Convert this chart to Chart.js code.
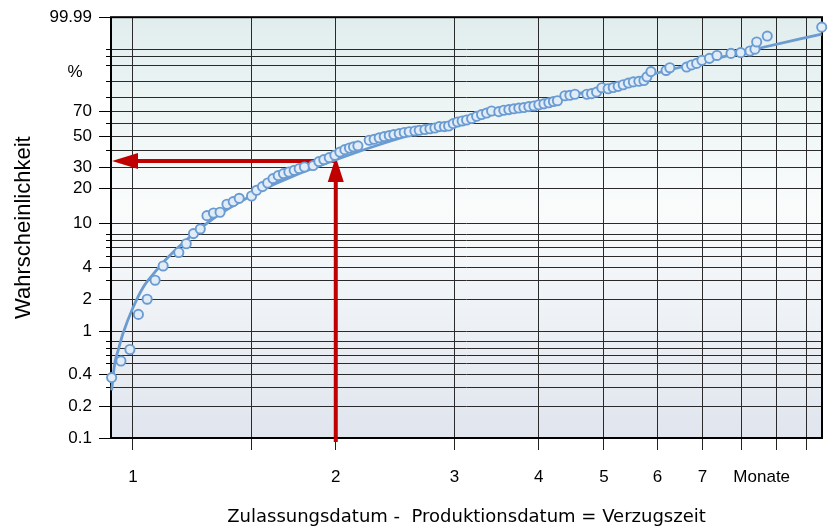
<!DOCTYPE html>
<html><head><meta charset="utf-8">
<script src="https://cdn.jsdelivr.net/npm/chart.js@4/dist/chart.umd.min.js"></script>
<style>html,body{margin:0;padding:0;background:#fff;}#wrap{width:832px;height:526px;}</style>
</head><body><div id="wrap"><canvas id="c" width="832" height="526"></canvas></div>
<script>
// Observed points: months and cumulative probability (%)
const pointMonths = [0.930,0.960,0.990,1.019,1.050,1.079,1.109,1.170,1.200,1.230,1.259,1.288,1.317,1.347,1.379,1.409,1.438,1.500,1.526,1.557,1.585,1.614,1.643,1.673,1.704,1.735,1.765,1.797,1.851,1.888,1.920,1.956,1.994,
  2.028,2.063,2.096,2.125,2.157,2.242,2.280,2.320,2.360,2.401,2.439,2.484,2.527,2.570,2.621,2.660,2.712,2.759,2.806,2.848,2.899,2.941,2.987,3.032,3.080,3.127,3.181,3.236,3.291,3.348,3.406,3.491,3.551,3.613,3.675,3.738,3.803,3.868,3.936,4.003,4.072,4.142,4.207,4.265,4.375,4.450,4.527,4.716,4.793,4.875,4.964,5.072,5.160,5.248,5.339,5.435,5.528,5.633,5.731,5.790,5.870,6.182,6.261,6.631,6.745,6.862,6.987,7.168,7.355,7.716,7.976,8.233,8.375,8.424,8.734,10.52];
const pointPercent = [0.37,0.53,0.68,1.45,2.01,3.02,4.09,5.44,6.54,8.08,8.90,11.7,12.35,12.53,14.72,15.53,16.58,17.35,19.4,20.84,22.33,24.27,25.67,26.65,27.44,28.31,29.2,30.06,30.83,33.1,34.28,35.5,36.93,
  39.0,40.6,41.7,42.5,43.2,47.2,47.9,49.0,49.9,50.7,51.4,52.2,53.0,53.6,54.2,54.7,55.3,55.9,56.5,57.6,57.6,58.1,60.0,61.3,62.1,62.9,64.0,65.8,67.2,68.4,70.0,69.5,70.6,71.1,71.7,72.3,72.7,73.4,73.9,74.8,75.5,76.3,77.2,77.8,81.3,81.6,82.3,82.3,82.7,83.7,86.4,85.8,86.5,87.2,88.1,89.0,89.6,89.9,90.3,92.0,94.1,94.5,95.4,95.6,96.2,96.6,97.3,97.7,98.2,98.5,98.6,98.8,99.0,99.54,99.78,99.94];
// Fitted distribution line
const fitMonths = [0.930,0.940,0.951,0.967,1.001,1.036,1.078,1.122,1.194,1.257,1.331,1.409,1.508,1.615,1.729,1.851,2.001,2.247,2.518,2.822,3.162,3.543,3.972,4.450,4.986,5.783,6.261,7.018,8.429,10.52];
const fitPercent = [0.281,0.505,0.668,0.965,1.69,2.60,3.58,4.76,6.89,8.93,11.55,14.28,17.77,21.57,25.43,29.36,34.16,41.86,49.39,56.3,62.81,69.32,75.47,81.21,86.66,92.46,94.74,96.99,99.04,99.83];
// Axes
const xGridMonths = [1,1.5,2,3,4,5,6,7,8,9,10];
const xLabelMonths = [1,2,3,4,5,6,7];
const xUnitAt = 8.57, xUnitLabel = 'Monate';
const xMin = 0.928, xMax = 10.53;
const yGridPercent = [0.1,0.2,0.3,0.4,0.5,0.6,0.7,0.8,1,2,3,4,5,6,7,8,10,20,30,40,50,60,70,80,90,96,98,99,99.99];
const yLabelPercent = [0.1,0.2,0.4,1,2,4,10,20,30,50,70,99.99];
const yUnitAt = 94, yUnitLabel = '%';
const arrowMonth = 2, arrowPercent = 33.5;

const wb = p => Math.log(-Math.log(1 - p / 100)); // Weibull probability transform
const FONT = '"Liberation Sans", Arial, sans-serif';

const decor = {
  id: 'decor',
  beforeDraw(chart) {
    const {ctx, chartArea: a} = chart;
    const g = ctx.createLinearGradient(0, a.top, 0, a.bottom);
    g.addColorStop(0, '#e1eded');
    g.addColorStop(0.45, '#fafcfc');
    g.addColorStop(1, '#e0e5ee');
    ctx.save(); ctx.fillStyle = g; ctx.fillRect(a.left, a.top, a.right - a.left, a.bottom - a.top); ctx.restore();
  },
  beforeDatasetsDraw(chart) {
    const {ctx, chartArea: a, scales} = chart;
    ctx.save();
    ctx.strokeStyle = '#000'; ctx.lineWidth = 2;
    ctx.strokeRect(a.left, a.top, a.right - a.left, a.bottom - a.top);
    const ax = scales.x.getPixelForValue(arrowMonth);
    const ay = scales.y.getPixelForValue(wb(arrowPercent));
    ctx.strokeStyle = '#c00000'; ctx.fillStyle = '#c00000'; ctx.lineWidth = 4;
    ctx.beginPath(); ctx.moveTo(ax, ay); ctx.lineTo(a.left + 22, ay); ctx.stroke();
    ctx.beginPath(); ctx.moveTo(a.left + 1, ay); ctx.lineTo(a.left + 27, ay - 8); ctx.lineTo(a.left + 27, ay + 8); ctx.closePath(); ctx.fill();
    ctx.beginPath(); ctx.moveTo(ax, a.bottom + 4); ctx.lineTo(ax, ay + 18); ctx.stroke();
    ctx.beginPath(); ctx.moveTo(ax, ay - 4); ctx.lineTo(ax - 8, ay + 21); ctx.lineTo(ax + 8, ay + 21); ctx.closePath(); ctx.fill();
    ctx.restore();
  }
};

new Chart(document.getElementById('c'), {
  type: 'scatter',
  data: {
    datasets: [
      {
        type: 'scatter',
        data: pointMonths.map((m, i) => ({x: m, y: wb(pointPercent[i])})),
        pointRadius: 4.6, pointBorderWidth: 1.9,
        borderColor: '#6a9cd3', backgroundColor: '#e1ecf6',
        clip: false
      },
      {
        type: 'line',
        data: fitMonths.map((m, i) => ({x: m, y: wb(fitPercent[i])})),
        borderColor: '#6a9bd1', borderWidth: 2.8, pointRadius: 0,
        cubicInterpolationMode: 'monotone', fill: false, clip: false
      }
    ]
  },
  options: {
    responsive: false, animation: false, devicePixelRatio: 1, events: [],
    layout: {padding: {top: 17, right: 10, left: 0, bottom: 0}},
    plugins: {legend: {display: false}, tooltip: {enabled: false}},
    scales: {
      x: {
        type: 'logarithmic', position: 'bottom', min: xMin, max: xMax,
        afterBuildTicks: s => { s.ticks = xGridMonths.concat([xUnitAt]).sort((a, b) => a - b).map(v => ({value: v})); },
        afterFit: s => { s.height = 88; },
        border: {display: false},
        grid: {
          color: c => (c.tick && c.tick.value === xUnitAt) ? 'rgba(0,0,0,0)' : '#2a2a2a',
          tickColor: c => (c.tick && c.tick.value === xUnitAt) ? 'rgba(0,0,0,0)' : '#222',
          tickLength: 12, lineWidth: 1
        },
        ticks: {
          autoSkip: false, maxRotation: 0, padding: 17, color: '#000',
          font: {family: FONT, size: 17},
          callback: v => v === xUnitAt ? xUnitLabel : (xLabelMonths.includes(v) ? String(v) : '')
        },
        title: {
          display: true, text: 'Zulassungsdatum -  Produktionsdatum = Verzugszeit', color: '#000',
          font: {family: '"DejaVu Sans", sans-serif', size: 18, lineHeight: 1}, padding: {top: 0, bottom: 0}
        }
      },
      y: {
        type: 'linear', position: 'left', weight: 1, min: wb(0.1), max: wb(99.99),
        afterBuildTicks: s => { s.ticks = yLabelPercent.concat([yUnitAt]).sort((a, b) => a - b).map(p => ({value: wb(p), pct: p})); },
        afterFit: s => { s.width = 111; },
        border: {display: false},
        grid: {
          drawOnChartArea: false, tickLength: 12,
          tickColor: c => (c.tick && c.tick.pct === yUnitAt) ? 'rgba(0,0,0,0)' : '#000'
        },
        ticks: {
          padding: 7, color: '#000', font: {family: FONT, size: 17},
          callback: (v, i, t) => t[i].pct === yUnitAt ? yUnitLabel + '  ' : String(t[i].pct)
        },
        title: {
          display: true, text: 'Wahrscheinlichkeit', color: '#000',
          font: {family: FONT, size: 22, lineHeight: 1}, padding: {top: 13, bottom: 0}
        }
      },
      y2: {
        type: 'linear', position: 'left', weight: 0, min: wb(0.1), max: wb(99.99),
        afterBuildTicks: s => { s.ticks = yGridPercent.map(p => ({value: wb(p), pct: p})); },
        afterFit: s => { s.width = 0; },
        border: {display: false},
        grid: {color: '#2a2a2a', tickColor: '#000', tickLength: 5, lineWidth: 1},
        ticks: {display: false}
      }
    }
  },
  plugins: [decor]
});
</script>
</body></html>
